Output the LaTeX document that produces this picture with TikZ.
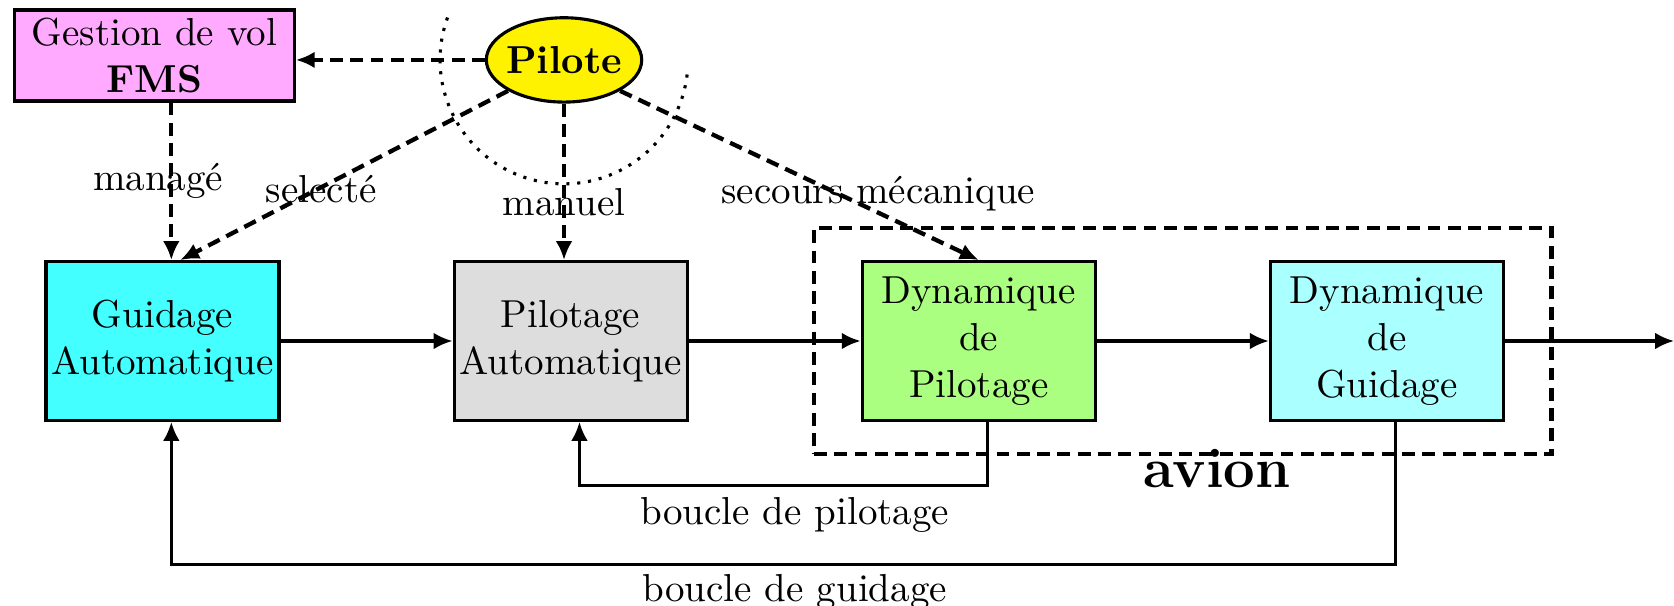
\documentclass[tikz,border=0pt]{standalone}
\usepackage{fontspec}
\usepackage{xcolor}
\usepackage{tikz}
\usetikzlibrary{arrows.meta,positioning,fit,shapes.geometric}

\definecolor{fmspink}{HTML}{FFAAFF}
\definecolor{guidcyan}{HTML}{44FFFF}
\definecolor{pilgray}{HTML}{DDDDDD}
\definecolor{dynpgreen}{HTML}{AAFF80}
\definecolor{dyngcyan}{HTML}{AAFFFF}

\begin{document}
\begin{tikzpicture}[
  node distance=15.5mm,
  box/.style={draw,thick,align=center,inner xsep=1pt,minimum width=21mm,minimum height=14.3mm},
  arr/.style={-{Latex[length=1.7mm,width=1.5mm]},thick},
  dashln/.style={line width=1.1pt,dash pattern=on 3.3pt off 1.9pt},
  darr/.style={arr,dashln}
]
\useasboundingbox (0,0) rectangle (15.086,-5.461);

% chaine principale
\node[box,fill=guidcyan] (guid) at (1.464,-3.073) {Guidage\\Automatique};
\node[box,right=of guid,fill=pilgray] (pil) {Pilotage\\Automatique};
\node[box,right=of pil,fill=dynpgreen] (dynpil) {Dynamique\\de\\Pilotage};
\node[box,right=of dynpil,fill=dyngcyan] (dynguid) {Dynamique\\de\\Guidage};
\coordinate (out) at (15.086,-3.073);

% pilote et FMS
\node[box,fill=fmspink,inner ysep=1pt,minimum width=25.2mm,minimum height=8.2mm] (fms) at (1.392,-0.5) {Gestion de vol\\\textbf{FMS}};
\node[draw,thick,ellipse,fill=yellow,minimum width=14mm,minimum height=7.6mm,inner sep=-2pt] (pilote) at (5.083,-0.54) {\textbf{Pilote}};
\draw[dotted,thick] ([shift={(160:1.117)}]pilote.center) arc[start angle=160,end angle=355,radius=1.117];

% avion
\node[draw,dashln,fit=(dynpil)(dynguid),inner xsep=4.2mm,inner ysep=2.9mm] (avion) {};
\node[font=\Large\bfseries] (avionlbl) at (10.968,-4.22) {avion};

\draw[arr] (guid)--(pil); \draw[arr] (pil)--(dynpil); \draw[arr] (dynpil)--(dynguid);
\draw[arr] (dynguid)--(out);

\draw[darr] (pilote.west)--(pilote.west -| fms.east);
\draw[darr] ([xshift=0.8mm]fms.south -| guid.north) -- node[pos=0.5,xshift=-1.2mm] {managé} ([xshift=0.8mm]guid.north);
\draw[darr] (pilote.south west) -- node[pos=0.58,xshift=0.3mm] {selecté} ([xshift=1.6mm]guid.north);
\draw[darr] (pilote.south) -- node[pos=0.63] {manuel} (pilote.south |- pil.north);
\draw[darr] (pilote.south east) -- node[pos=0.72,yshift=1.7mm] {secours mécanique} (dynpil.north);

% boucles
\draw[arr] ([xshift=0.8mm]dynpil.south) -- ++(0,-0.577) -| node[pos=0.25,below,inner sep=2.5pt,xshift=1mm] {boucle de pilotage} ([xshift=0.8mm]pil.south);
\draw[arr] ([xshift=0.8mm]dynguid.south) -- ++(0,-1.289) -| node[pos=0.25,below,inner sep=2pt,xshift=1mm] {boucle de guidage} ([xshift=0.8mm]guid.south);
\end{tikzpicture}
\end{document}
